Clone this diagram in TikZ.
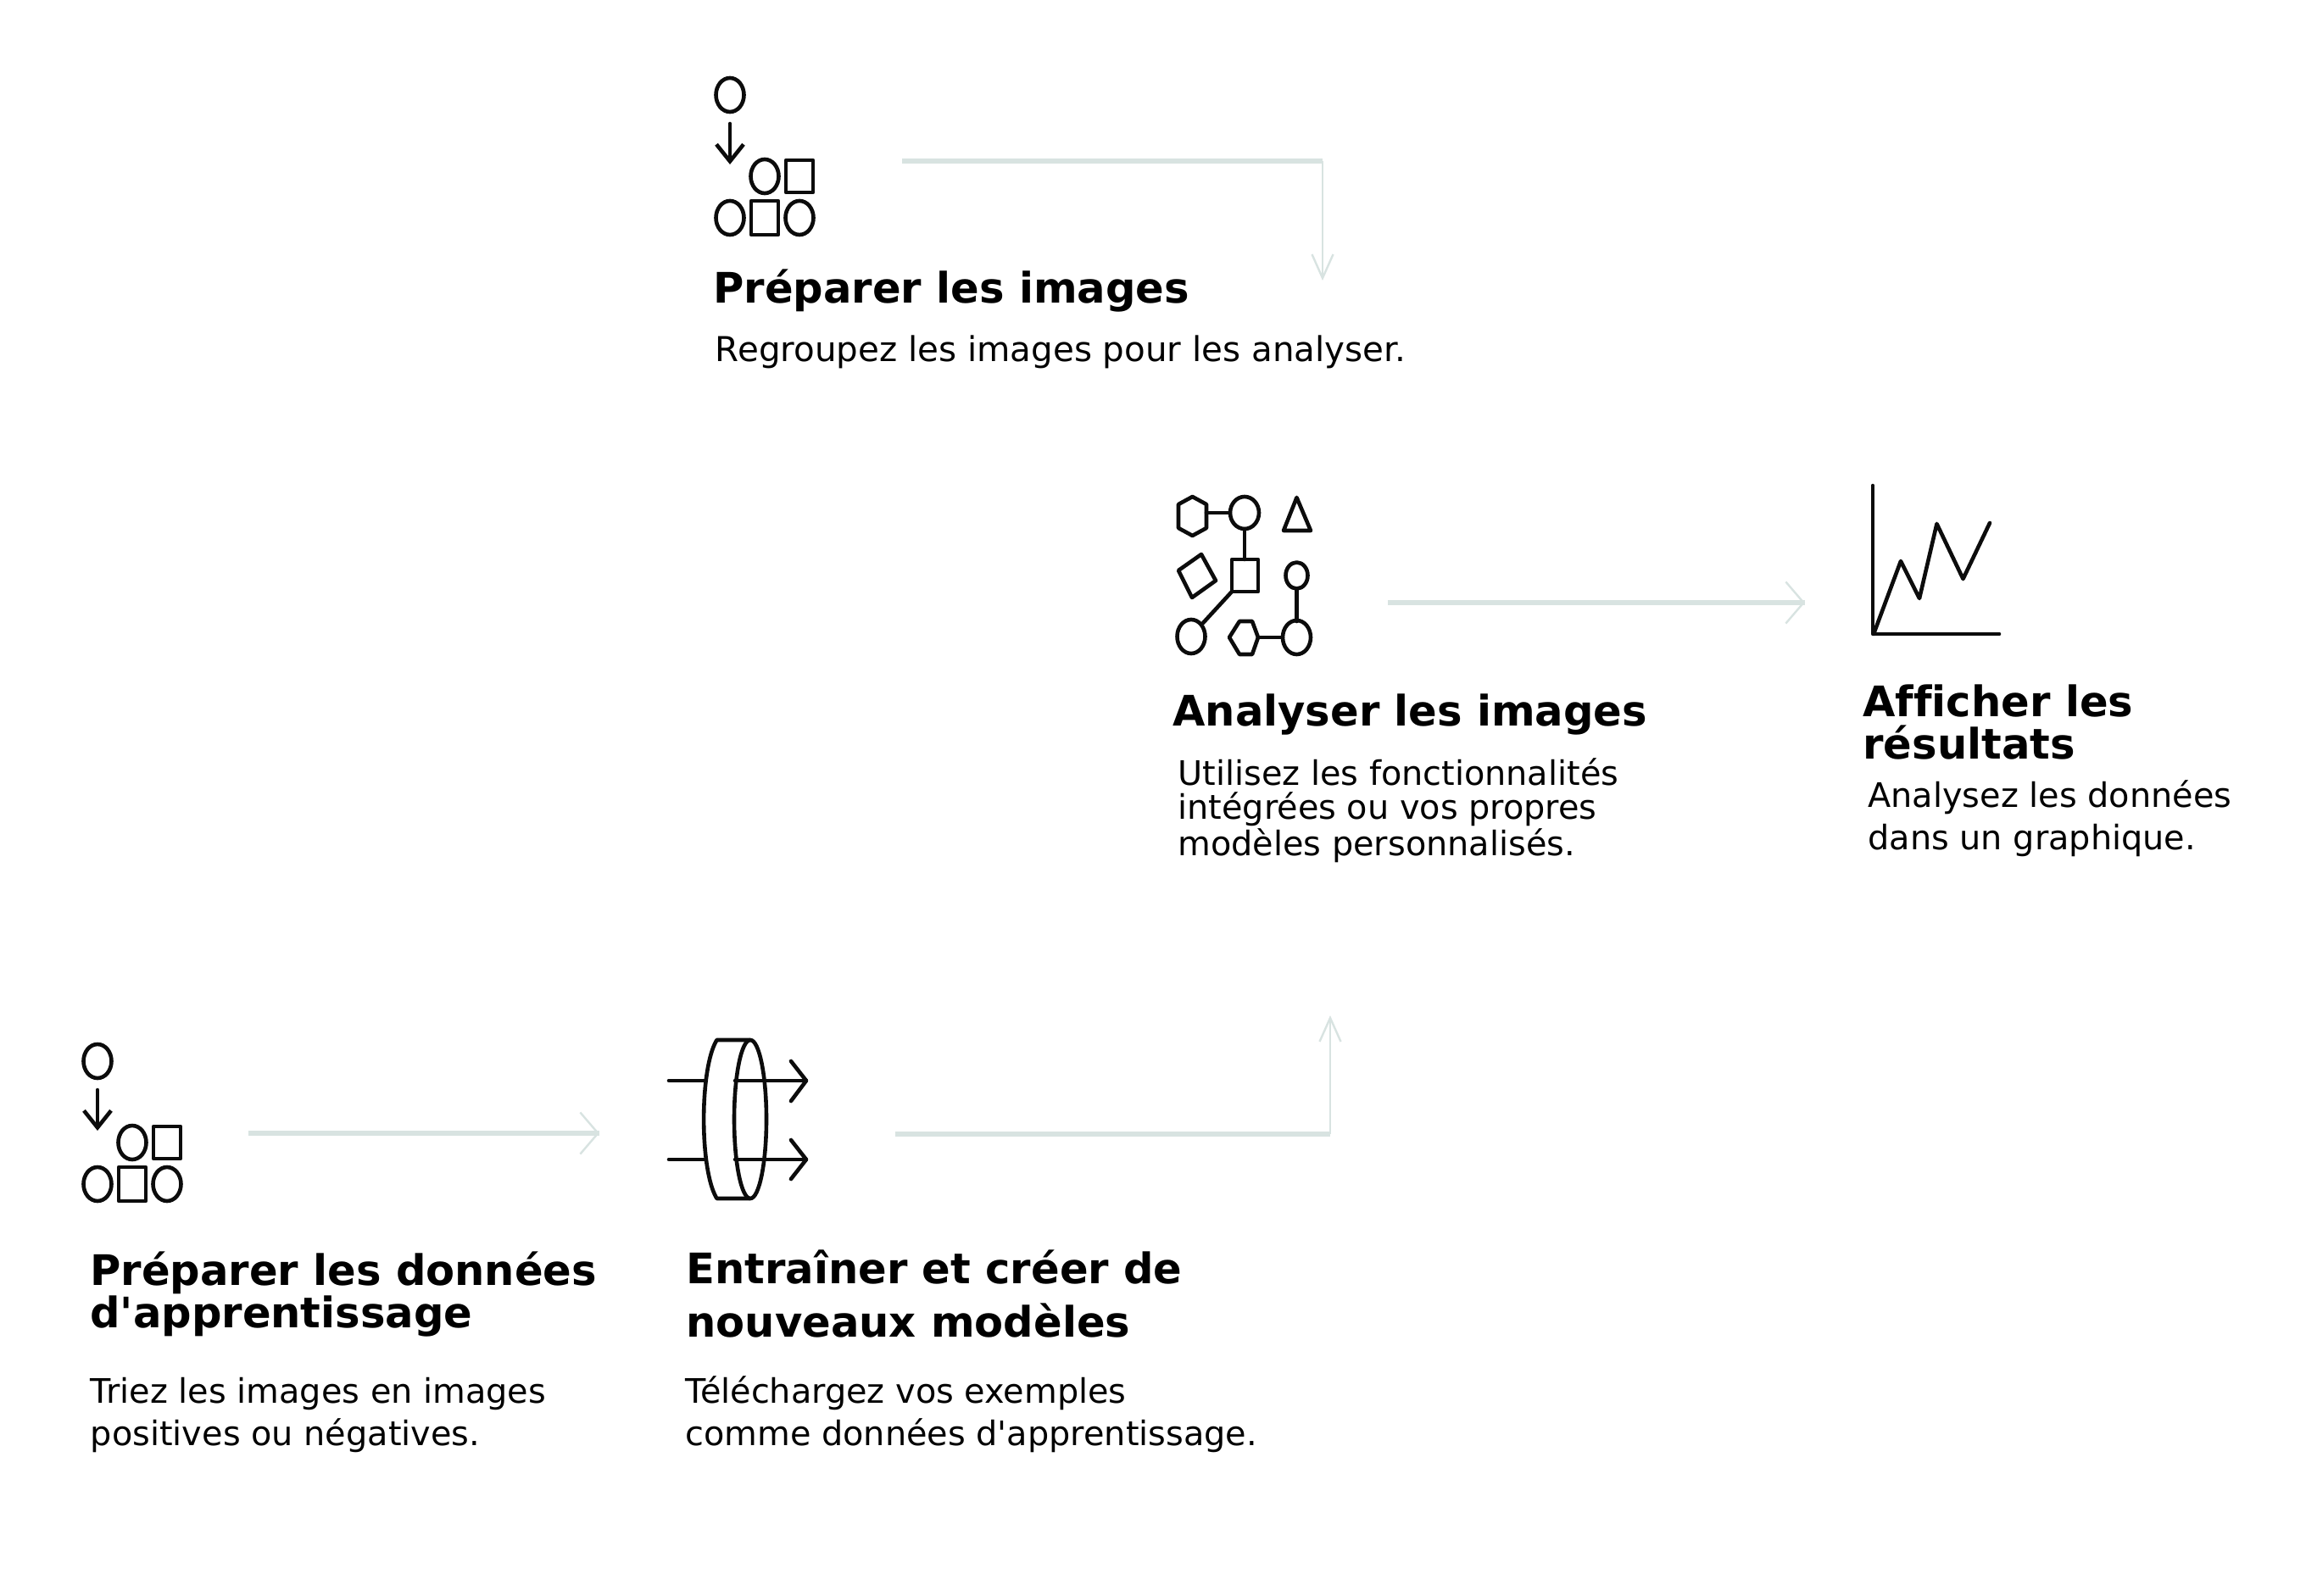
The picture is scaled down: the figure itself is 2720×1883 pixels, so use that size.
\documentclass[tikz,border=0pt]{standalone}
\usepackage{fontspec}
\setmainfont{DejaVu Sans}[Ligatures={TeXOff,NoCommon}]
\usetikzlibrary{arrows.meta}
\definecolor{conncol}{HTML}{D8E3E1}
\definecolor{iconcol}{HTML}{0C0C0C}
\tikzset{
  x=0.5pt,y=-0.5pt,
  titletext/.style={anchor=base west,inner sep=0pt,align=left,text=black,font=\bfseries\fontsize{24.8}{25}\selectfont},
  titlewide/.style={titletext,font=\bfseries\fontsize{24.8}{31.5}\selectfont},
  desctext/.style={anchor=base west,inner sep=0pt,align=left,text=black,font=\fontsize{20.2}{20}\selectfont},
  descnarrow/.style={desctext,font=\fontsize{19.9}{20}\selectfont},
  descwide/.style={desctext,font=\fontsize{19.9}{25}\selectfont},
  connthick/.style={draw=conncol,line width=2.6pt},
  connthin/.style={draw=conncol,line width=1.2pt},
  headh/.style={connthin,-{Straight Barb[length=10.5pt,width=24.5pt]}},
  headv/.style={connthin,-{Straight Barb[length=14pt,width=12.5pt]}},
  iconline/.style={draw=iconcol,line width=2.3pt,line cap=round,line join=round},
  iconarrow/.style={iconline,-{Straight Barb[length=10pt,width=16pt]}},
  sorter/.pic={
    \draw[iconline] (0,0) ellipse [x radius=16.5,y radius=20];
    \draw[iconarrow] (0,34) -- (0,82);
    \draw[iconline] (41,96) ellipse [x radius=16.5,y radius=20];
    \draw[iconline] (66,77) rectangle (98,115);
    \draw[iconline] (0,145) ellipse [x radius=16.5,y radius=20];
    \draw[iconline] (25,125) rectangle (57,165);
    \draw[iconline] (82,145) ellipse [x radius=16.5,y radius=20];
  }
}
\begin{document}
\begin{tikzpicture}
\useasboundingbox (0,0) rectangle (2720,1883);
\fill[white] (0,0) rectangle (2720,1883);

% sorter icons
\pic at (861,112) {sorter};
\pic at (115,1252) {sorter};

% analysis icon
\begin{scope}[iconline]
  \draw (1390,595) -- (1406.5,586) -- (1423,595) -- (1423,623) -- (1406.5,632) -- (1390,623) -- cycle;
  \draw (1468,605) ellipse [x radius=17,y radius=19];
  \draw (1423,605) -- (1451,605);
  \draw (1468,624) -- (1468,660);
  \draw (1453,660) rectangle (1484,698);
  \draw (1529.5,587) -- (1546,626) -- (1514,626) -- cycle;
  \draw (1417,654) -- (1434,685) -- (1406,705) -- (1390,673) -- cycle;
  \draw (1529.5,679) ellipse [x radius=13,y radius=15.5];
  \draw (1529.5,695) -- (1529.5,733);
  \draw (1529.5,752) ellipse [x radius=16.5,y radius=20];
  \draw (1450,752) -- (1462,733) -- (1477,733) -- (1484,752) -- (1477,772) -- (1462,772) -- cycle;
  \draw (1484,752) -- (1513,752);
  \draw (1405,751) ellipse [x radius=16.5,y radius=20];
  \draw (1453,698) -- (1419,735);
\end{scope}

% chart icon
\draw[iconline] (2209,573) -- (2209,748) -- (2358,748);
\draw[iconline] (2210,748) -- (2242,662) -- (2264,706) -- (2284.5,618) -- (2315.5,683) -- (2347,617);

% lens icon
\begin{scope}[iconline]
  \draw (789,1275) -- (830,1275);
  \draw (867,1275) -- (951,1275);
  \draw (789,1368) -- (830,1368);
  \draw (867,1368) -- (951,1368);
  \draw (933,1252) -- (951,1275) -- (933,1299);
  \draw (933,1345) -- (951,1368) -- (933,1391);
  \draw (885,1320.5) ellipse [x radius=19,y radius=93.5];
  \draw (885,1227) -- (845.5,1227) .. controls (825,1260) and (825,1381) .. (845.5,1414) -- (885,1414);
\end{scope}

% text
\node[titletext] (t1) at (841,358) {Préparer les images};
\node[desctext]  (d1) at (843.5,426.5) {Regroupez les images pour les analyser.};
\node[titletext] (t2) at (1383,856) {Analyser les images};
\node[descnarrow] (d2) at (1389,1009) {Utilisez les fonctionnalités\\intégrées ou vos propres\\modèles personnalisés.};
\node[titletext] (t3) at (2197,895) {Afficher les\\résultats};
\node[descwide]  (d3) at (2203,1002) {Analysez les données\\dans un graphique.};
\node[titletext] (t4) at (106,1566) {Préparer les données\\d'apprentissage};
\node[descwide]  (d4) at (106.5,1705) {Triez les images en images\\positives ou négatives.};
\node[titlewide] (t5) at (809,1577) {Entraîner et créer de\\nouveaux modèles};
\node[descwide]  (d5) at (808,1705) {Téléchargez vos exemples\\comme données d'apprentissage.};

% connector ends
\coordinate (c1a) at (1064,190);
\coordinate (c1b) at (1560,190);
\coordinate (c1c) at (1560,331);
\coordinate (c2a) at (1637,711);
\coordinate (c2b) at (2129,711);
\coordinate (c3a) at (293,1337);
\coordinate (c3b) at (707,1337);
\coordinate (c4a) at (1056,1338);
\coordinate (c4b) at (1569,1338);
\coordinate (c4c) at (1569,1198);

\draw[connthick] (c1a) -- (c1b);
\draw[headv] (c1b) -- (c1c);
\draw[connthick] (c2a) -- (c2b);
\draw[headh] (c2a) -- (c2b);
\draw[connthick] (c3a) -- (c3b);
\draw[headh] (c3a) -- (c3b);
\draw[connthick] (c4a) -- (c4b);
\draw[headv] (c4b) -- (c4c);
\end{tikzpicture}
\end{document}
